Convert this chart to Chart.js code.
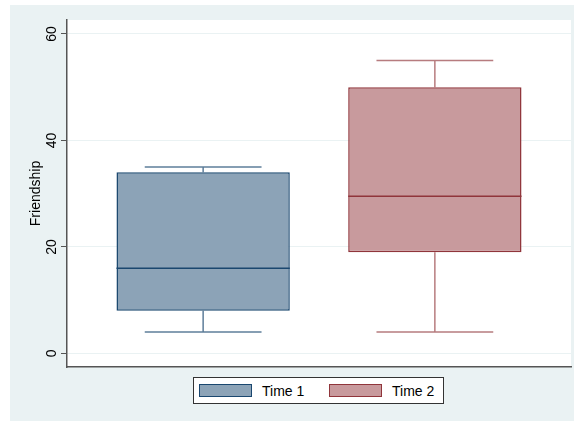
<!DOCTYPE html>
<html lang="en">
<head>
    <meta charset="UTF-8">
    <title>Friendship by time</title>
    <script src="https://cdn.jsdelivr.net/npm/chart.js@4.4.0/dist/chart.umd.min.js"></script>
    <style>
        body {
            margin: 0;
            background: #fff;
            font-family: "Liberation Sans", Arial, sans-serif;
        }

        .frame {
            position: absolute;
            left: 10px;
            top: 5px;
            width: 564px;
            height: 416px;
            background: #eaf2f3;
        }

        #chart {
            position: absolute;
            left: 0;
            top: 0;
        }

        .legend {
            position: absolute;
            left: 193px;
            top: 377px;
            width: 249px;
            height: 25px;
            border: 1px solid #333;
            background: #fff;
        }

        .legend-item {
            position: absolute;
            top: 0;
            height: 25px;
            display: flex;
            align-items: center;
        }

        .swatch {
            width: 51px;
            height: 11px;
            border: 1.5px solid;
            margin-right: 10px;
        }

        .legend-item span {
            font-size: 14px;
            color: #000;
        }
    </style>
</head>
<body>
    <div class="frame"></div>
    <canvas id="chart" width="574" height="421"></canvas>
    <div class="legend" id="legend"></div>

    <script>
        // values
        const groups = ['Time 1', 'Time 2'];
        const lowerWhisker = [4, 4];
        const lowerQuartile = [8, 19];
        const medians = [16, 29.5];
        const upperQuartile = [34, 50];
        const upperWhisker = [35, 55];
        const yTicks = [0, 20, 40, 60];

        const fills = ['#8ca3b7', '#c89a9d'];
        const lines = ['#1a476f', '#90353b'];
        const whiskerLines = ['rgba(26, 71, 111, 0.7)', 'rgba(144, 53, 59, 0.65)'];
        const boxWidth = 0.748;   // in x units
        const capWidth = 0.504;

        Chart.defaults.font.family = '"Liberation Sans", Arial, sans-serif';

        const datasets = [];
        groups.forEach((name, i) => {
            const x = i + 1;
            // box
            datasets.push({
                type: 'bar',
                label: name,
                order: 1,
                data: [{ x: x, y: [lowerQuartile[i], upperQuartile[i]] }],
                backgroundColor: fills[i],
                borderColor: lines[i],
                borderWidth: 1.5,
                borderSkipped: false,
                barPercentage: boxWidth,
                categoryPercentage: 1,
                grouped: false
            });
            // median
            datasets.push({
                type: 'line',
                label: name + ' median',
                order: 0,
                data: [
                    { x: x - boxWidth / 2, y: medians[i] },
                    { x: x + boxWidth / 2, y: medians[i] }
                ],
                borderColor: lines[i],
                borderWidth: 1.5,
                pointRadius: 0
            });
            // whiskers and caps
            datasets.push({
                type: 'line',
                label: name + ' whiskers',
                order: 2,
                data: [
                    { x: x - capWidth / 2, y: upperWhisker[i] }, { x: x + capWidth / 2, y: upperWhisker[i] }, { x: x, y: null },
                    { x: x, y: upperWhisker[i] }, { x: x, y: upperQuartile[i] }, { x: x, y: null },
                    { x: x, y: lowerQuartile[i] }, { x: x, y: lowerWhisker[i] }, { x: x, y: null },
                    { x: x - capWidth / 2, y: lowerWhisker[i] }, { x: x + capWidth / 2, y: lowerWhisker[i] }
                ],
                borderColor: whiskerLines[i],
                borderWidth: 1.5,
                pointRadius: 0,
                spanGaps: false
            });
        });

        const plotBackground = {
            id: 'plotBackground',
            beforeDraw(chart) {
                const { ctx, chartArea: a } = chart;
                ctx.save();
                ctx.fillStyle = '#fff';
                ctx.fillRect(a.left, a.top, a.right - a.left, a.bottom - a.top);
                ctx.restore();
            }
        };

        new Chart(document.getElementById('chart'), {
            type: 'bar',
            data: { datasets: datasets },
            options: {
                responsive: false,
                animation: false,
                layout: { padding: { left: 10, top: 20, right: 3, bottom: 54 } },
                plugins: {
                    legend: { display: false },
                    tooltip: { enabled: false }
                },
                scales: {
                    x: {
                        type: 'linear',
                        min: 0.4125,
                        max: 2.5875,
                        offset: false,
                        bounds: 'data',
                        ticks: { display: false },
                        grid: { display: false, drawTicks: false, offset: false },
                        border: { color: '#555', width: 1.5 },
                        afterBuildTicks: s => { s.ticks = groups.map((g, i) => ({ value: i + 1 })); },
                        afterFit: s => { s.height = 0; }
                    },
                    y: {
                        min: -2.57,
                        max: 62.63,
                        afterBuildTicks: s => { s.ticks = yTicks.map(v => ({ value: v })); },
                        ticks: {
                            minRotation: 90,
                            maxRotation: 90,
                            crossAlign: 'center',
                            padding: 1,
                            color: '#000',
                            font: { size: 14 }
                        },
                        grid: { color: '#eaf2f3', tickColor: '#555', tickLength: 6, lineWidth: 1 },
                        border: { color: '#555', width: 1.5 },
                        title: {
                            display: true,
                            text: 'Friendship',
                            color: '#000',
                            font: { size: 14 },
                            padding: { top: 17.6, bottom: 0 }
                        },
                        afterFit: s => { s.width = 57; }
                    }
                }
            },
            plugins: [plotBackground]
        });

        // legend, one entry per group
        const legend = document.getElementById('legend');
        groups.forEach((name, i) => {
            const item = document.createElement('div');
            item.className = 'legend-item';
            item.style.left = (5 + i * 130) + 'px';
            const sw = document.createElement('div');
            sw.className = 'swatch';
            sw.style.background = fills[i];
            sw.style.borderColor = lines[i];
            const label = document.createElement('span');
            label.textContent = name;
            item.appendChild(sw);
            item.appendChild(label);
            legend.appendChild(item);
        });
    </script>
</body>
</html>
